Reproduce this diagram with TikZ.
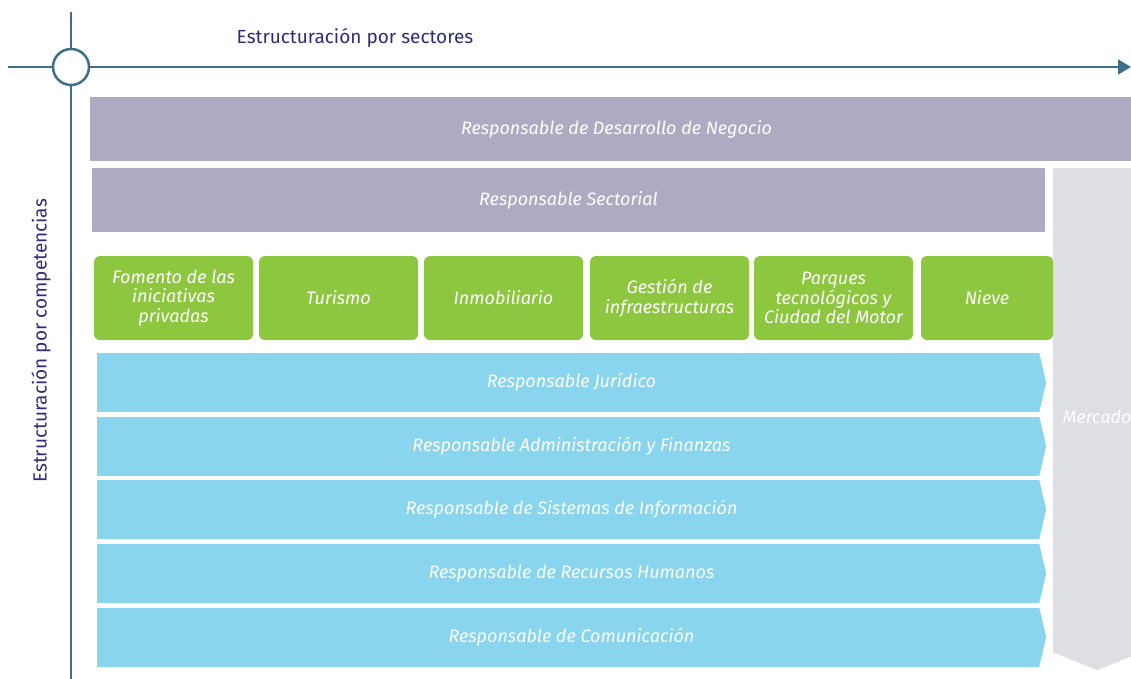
\documentclass[tikz,border=0pt]{standalone}
\usepackage{fontspec}
\setmainfont{Fira Sans}
\usepackage{tikz}
\usetikzlibrary{arrows.meta}
\definecolor{axisblue}{HTML}{3D6E8A}
\definecolor{titleblue}{HTML}{2E2C7A}
\definecolor{headgray}{HTML}{AEAAC1}
\definecolor{sectorgreen}{HTML}{8DC63F}
\definecolor{compblue}{HTML}{89D5EE}
\definecolor{mercgray}{HTML}{DEDFE3}

\begin{document}
\begin{tikzpicture}[x=1pt,y=-1pt]
	\tikzstyle{bar}=[inner sep=0pt, font=\fontsize{18}{19.5}\selectfont\itshape, text=white]
	\tikzstyle{head bar}=[bar, fill=headgray, minimum height=64pt]
	\tikzstyle{sector}=[bar, fill=sectorgreen, rounded corners=6pt, minimum height=84pt, align=center]
	\tikzstyle{competence}=[bar, fill=compblue, minimum width=942pt, minimum height=59pt]
	\tikzstyle{axis}=[draw=axisblue, line width=2pt]
	\tikzstyle{annot}=[text=titleblue, inner sep=0pt, font=\fontsize{19}{22}\selectfont]

	\useasboundingbox (0,0) rectangle (1131,679);
	\clip (0,0) rectangle (1131,679);

	% Mercado column behind everything
	\node[fill=mercgray, minimum width=88pt, minimum height=484pt, inner sep=0pt] (M) at (1097,410) {};
	\fill[mercgray] (M.south west) -- ([yshift=-18pt]M.south) -- (M.south east) -- cycle;
	\node[bar] (merc) at ([yshift=-7pt]M.center) {Mercado};

	% Axes
	\node[circle, draw=axisblue, line width=2.5pt, minimum size=36pt, inner sep=0pt] (O) at (71,67) {};
	\coordinate (top) at (71,12);
	\coordinate (bottom) at (71,679);
	\coordinate (left) at (8,67);
	\coordinate (right) at (1131,67);
	\draw[axis] (O.north) -- (top);
	\draw[axis] (O.south) -- (bottom);
	\draw[axis] (O.west) -- (left);
	\draw[axis, -{Triangle[length=13pt,width=15pt]}] (O.east) -- (right);

	% Annotate the axes
	\node[annot] (sect) at (355,38) {Estructuración por sectores};
	\node[annot, rotate=90] (comp) at (41,341) {Estructuración por competencias};

	% Top bars
	\node[head bar, minimum width=1053pt] (neg) at (616.5,129) {Responsable de Desarrollo de Negocio};
	\node[head bar, minimum width=953pt] (sec) at (568.5,200) {Responsable Sectorial};

	% Draw the sector boxes
	\foreach \name / \x / \w / \txt in {
		fom/173.5/159/{Fomento de las\\iniciativas\\privadas},
		tur/338.5/159/{Turismo},
		inm/503.5/159/{Inmobiliario},
		ges/669.5/159/{Gestión de\\infraestructuras},
		par/833.5/159/{Parques\\tecnológicos y\\Ciudad del Motor},
		nie/987/132/{Nieve}}
	\node[sector, minimum width=\w pt] (S-\name) at (\x,298) {\txt};

	% Draw the competence bars with their pointed ends
	\foreach \name / \y / \txt in {
		jur/382.5/{Responsable Jurídico},
		adm/446/{Responsable Administración y Finanzas},
		sis/509.5/{Responsable de Sistemas de Información},
		rrh/573.5/{Responsable de Recursos Humanos},
		com/637/{Responsable de Comunicación}}
	{
		\node[competence] (C-\name) at (568,\y) {\hspace*{7pt}\txt};
		\fill[compblue] (C-\name.north east) -- ([xshift=7pt]C-\name.east) -- (C-\name.south east) -- cycle;
	}
\end{tikzpicture}
\end{document}
